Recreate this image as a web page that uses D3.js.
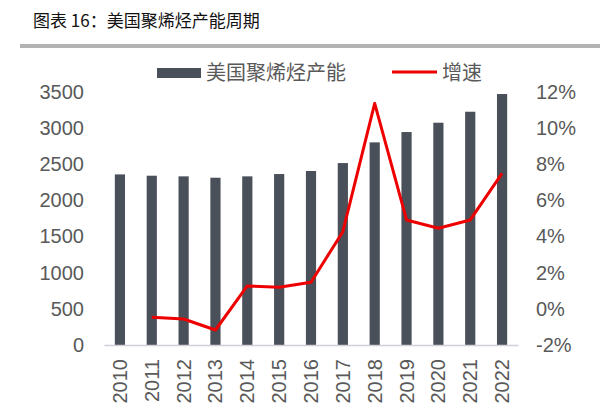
<!DOCTYPE html>
<html><head><meta charset="utf-8">
<script src="https://cdn.jsdelivr.net/npm/d3@7"></script>
<style>body{margin:0;background:#fff}svg{display:block}</style>
</head><body>
<script>
const years = ["2010","2011","2012","2013","2014","2015","2016","2017","2018","2019","2020","2021","2022"];
const capacity = [2360,2342,2333,2314,2333,2365,2407,2517,2803,2946,3075,3227,3472];
const growth = [null,-0.47,-0.56,-1.17,1.27,1.19,1.47,4.27,11.37,4.92,4.46,4.92,7.5];
const leftTicks = [0,500,1000,1500,2000,2500,3000,3500];
const rightTicks = [-2,0,2,4,6,8,10,12];

const W=600,H=408;
const svg=d3.select("body").append("svg").attr("width",W).attr("height",H);
const font="Liberation Sans, Arial, 'Noto Sans CJK SC', sans-serif";
const cjk="'Noto Sans CJK SC', sans-serif";

svg.append("text").attr("x",33).attr("y",27).attr("font-family",cjk).attr("font-size",17).attr("fill","#111")
  .text("图表 16：美国聚烯烃产能周期");
svg.append("rect").attr("x",20).attr("y",44).attr("width",580).attr("height",4).attr("fill","#b3b3b3");

const x=d3.scaleBand().domain(years).range([104,518]).paddingInner(0.68).paddingOuter(0.34);
const yL=d3.scaleLinear().domain([0,3500]).range([345,92]);
const yR=d3.scaleLinear().domain([-2,12]).range([345,92]);

const tickColor="#595959";
const gL=svg.append("g").attr("transform","translate(84,0)")
  .call(d3.axisLeft(yL).tickValues(leftTicks).tickSize(0).tickPadding(0).tickFormat(d3.format("d")));
gL.select(".domain").remove();
gL.selectAll("text").attr("font-family",font).attr("font-size",20).attr("fill",tickColor);

const gR=svg.append("g").attr("transform","translate(536,0)")
  .call(d3.axisRight(yR).tickValues(rightTicks).tickSize(0).tickPadding(0).tickFormat(d=>d+"%"));
gR.select(".domain").remove();
gR.selectAll("text").attr("font-family",font).attr("font-size",20).attr("fill",tickColor);

svg.selectAll("rect.bar").data(capacity).enter().append("rect").attr("class","bar")
  .attr("x",(d,i)=>x(years[i])).attr("width",x.bandwidth())
  .attr("y",d=>yL(d)).attr("height",d=>yL(0)-yL(d)).attr("fill","#4a5059");

const gX=svg.append("g").attr("transform","translate(0,345)")
  .call(d3.axisBottom(x).tickSize(0).tickPadding(0));
gX.select(".domain").attr("stroke","#d0d0d8").attr("stroke-width",1.5);
gX.selectAll("text").attr("font-family",font).attr("font-size",20).attr("fill",tickColor)
  .attr("transform","rotate(-90)").attr("text-anchor","end").attr("dy","0.35em").attr("x",-14).attr("y",0);

const line=d3.line().defined(d=>d!=null).x((d,i)=>x(years[i])+x.bandwidth()/2).y(d=>yR(d));
svg.append("path").datum(growth).attr("d",line).attr("fill","none").attr("stroke","#ee0000")
  .attr("stroke-width",3).attr("stroke-linejoin","round");

// legend
svg.append("rect").attr("x",157).attr("y",68).attr("width",44).attr("height",10).attr("fill","#4a5059");
svg.append("text").attr("x",206).attr("y",80).attr("font-family",cjk).attr("font-size",20).attr("fill",tickColor).text("美国聚烯烃产能");
svg.append("line").attr("x1",392).attr("x2",437).attr("y1",72).attr("y2",72).attr("stroke","#ee0000").attr("stroke-width",3);
svg.append("text").attr("x",442).attr("y",80).attr("font-family",cjk).attr("font-size",20).attr("fill",tickColor).text("增速");
</script>
</body></html>
